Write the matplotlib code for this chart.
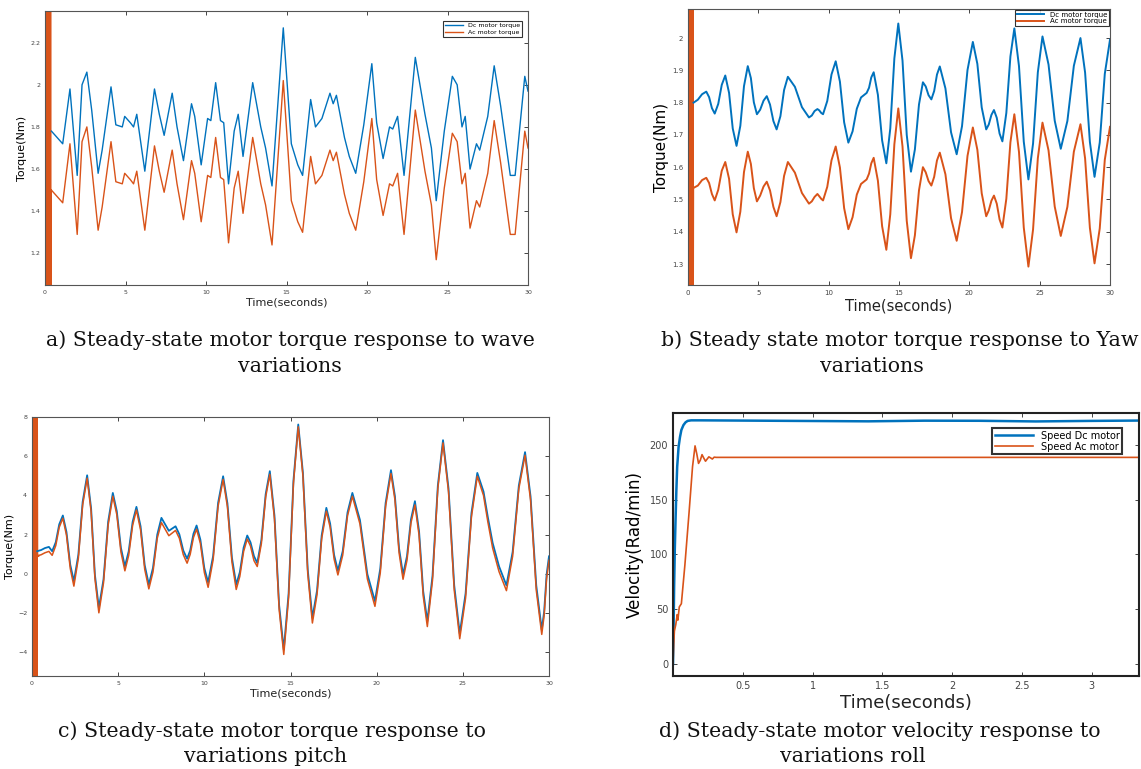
import matplotlib
matplotlib.use("Agg")
import matplotlib.pyplot as plt

DC = '#0072BD'
AC = '#D95319'

# ---------------- data -----------------
# a) wave
t_a = [0.4, 1.1, 1.55, 2.0, 2.3, 2.6, 2.9, 3.3, 3.55, 4.1, 4.4, 4.8, 4.95, 5.3, 5.5, 5.7, 6.2, 6.8, 7.1, 7.4,
       7.9, 8.2, 8.6, 9.1, 9.3, 9.7, 10.1, 10.3, 10.6, 10.9, 11.1, 11.4, 11.75, 12.0, 12.3, 12.9, 13.4, 13.7,
       14.1, 14.8, 15.3, 15.7, 16.0, 16.5, 16.8, 17.2, 17.7, 17.9, 18.1, 18.6, 18.9, 19.3, 19.8, 20.3, 20.6,
       21.0, 21.4, 21.6, 21.9, 22.3, 23.0, 23.6, 24.0, 24.3, 24.8, 25.3, 25.6, 25.9, 26.1, 26.4, 26.8, 27.0,
       27.5, 27.9, 28.3, 28.9, 29.2, 29.8, 30.0]
dc_a = [1.78, 1.72, 1.98, 1.57, 2.0, 2.06, 1.88, 1.58, 1.69, 1.99, 1.81, 1.80, 1.85, 1.82, 1.80, 1.86, 1.59, 1.98,
        1.86, 1.76, 1.96, 1.80, 1.64, 1.91, 1.85, 1.62, 1.84, 1.83, 2.01, 1.83, 1.82, 1.53, 1.78, 1.86, 1.66,
        2.01, 1.80, 1.70, 1.52, 2.27, 1.72, 1.62, 1.57, 1.93, 1.80, 1.84, 1.96, 1.91, 1.95, 1.75, 1.66, 1.58,
        1.81, 2.10, 1.82, 1.65, 1.80, 1.79, 1.85, 1.57, 2.13, 1.86, 1.70, 1.45, 1.78, 2.04, 2.00, 1.80, 1.85,
        1.60, 1.72, 1.69, 1.85, 2.09, 1.90, 1.57, 1.57, 2.04, 1.97]
ac_a = [1.50, 1.44, 1.72, 1.29, 1.73, 1.80, 1.61, 1.31, 1.42, 1.73, 1.54, 1.53, 1.58, 1.55, 1.53, 1.59, 1.31, 1.71,
        1.59, 1.49, 1.69, 1.53, 1.36, 1.64, 1.58, 1.35, 1.57, 1.56, 1.75, 1.56, 1.55, 1.25, 1.51, 1.59, 1.39,
        1.75, 1.53, 1.43, 1.24, 2.02, 1.45, 1.35, 1.30, 1.66, 1.53, 1.57, 1.69, 1.64, 1.68, 1.48, 1.39, 1.31,
        1.54, 1.84, 1.55, 1.38, 1.53, 1.52, 1.58, 1.29, 1.88, 1.59, 1.43, 1.17, 1.51, 1.77, 1.73, 1.53, 1.58,
        1.32, 1.45, 1.42, 1.58, 1.83, 1.63, 1.29, 1.29, 1.78, 1.70]

# b) yaw
t_b = [0.4, 0.7, 1.0, 1.3, 1.5, 1.7, 1.9, 2.15, 2.4, 2.65, 2.92, 3.18, 3.45, 3.72, 3.98, 4.25, 4.47, 4.68, 4.9,
       5.13, 5.37, 5.6, 5.83, 6.07, 6.3, 6.57, 6.83, 7.1, 7.6, 8.1, 8.6, 8.8, 9.0, 9.2, 9.33, 9.47, 9.6, 9.9,
       10.2, 10.5, 10.8, 11.1, 11.4, 11.7, 12.0, 12.3, 12.7, 12.87, 13.03, 13.2, 13.5, 13.8, 14.1, 14.38, 14.67,
       14.95, 15.25, 15.55, 15.85, 16.13, 16.42, 16.7, 16.9, 17.1, 17.3, 17.5, 17.7, 17.9, 18.3, 18.7, 19.1,
       19.48, 19.87, 20.25, 20.57, 20.88, 21.2, 21.38, 21.57, 21.75, 21.95, 22.15, 22.35, 22.63, 22.92, 23.2,
       23.53, 23.87, 24.2, 24.53, 24.87, 25.2, 25.63, 26.07, 26.5, 26.97, 27.43, 27.9, 28.23, 28.57, 28.9,
       29.27, 29.63, 30.0]
dc_b = [1.80, 1.809, 1.826, 1.834, 1.817, 1.783, 1.766, 1.796, 1.855, 1.884, 1.83, 1.72, 1.666, 1.728, 1.851,
        1.913, 1.876, 1.801, 1.764, 1.778, 1.806, 1.82, 1.794, 1.743, 1.717, 1.758, 1.839, 1.88, 1.849, 1.786,
        1.754, 1.76, 1.774, 1.78, 1.776, 1.768, 1.764, 1.805, 1.887, 1.928, 1.865, 1.739, 1.676, 1.711, 1.781,
        1.816, 1.83, 1.846, 1.878, 1.894, 1.824, 1.683, 1.612, 1.72, 1.937, 2.045, 1.93, 1.70, 1.586, 1.655,
        1.794, 1.863, 1.85, 1.823, 1.81, 1.836, 1.887, 1.912, 1.844, 1.708, 1.64, 1.727, 1.901, 1.988, 1.92,
        1.785, 1.717, 1.732, 1.762, 1.777, 1.753, 1.704, 1.68, 1.768, 1.943, 2.03, 1.913, 1.679, 1.562, 1.673,
        1.894, 2.005, 1.918, 1.744, 1.657, 1.743, 1.914, 2.0, 1.893, 1.678, 1.57, 1.676, 1.889, 1.995]
ac_b = [1.536, 1.543, 1.560, 1.567, 1.551, 1.517, 1.497, 1.530, 1.589, 1.616, 1.564, 1.454, 1.398, 1.462, 1.585,
        1.648, 1.610, 1.535, 1.494, 1.512, 1.540, 1.555, 1.528, 1.477, 1.448, 1.492, 1.573, 1.616, 1.583, 1.520,
        1.487, 1.494, 1.508, 1.517, 1.510, 1.502, 1.497, 1.539, 1.621, 1.664, 1.599, 1.473, 1.408, 1.445, 1.515,
        1.548, 1.562, 1.580, 1.612, 1.629, 1.558, 1.417, 1.344, 1.454, 1.671, 1.782, 1.664, 1.434, 1.318, 1.389,
        1.528, 1.600, 1.584, 1.557, 1.543, 1.570, 1.621, 1.645, 1.578, 1.442, 1.372, 1.461, 1.635, 1.723, 1.654,
        1.519, 1.448, 1.466, 1.496, 1.512, 1.487, 1.438, 1.413, 1.502, 1.677, 1.764, 1.647, 1.413, 1.292, 1.407,
        1.628, 1.738, 1.652, 1.478, 1.387, 1.477, 1.648, 1.733, 1.627, 1.412, 1.302, 1.410, 1.623, 1.725]

# c) pitch
t_c = [0.3, 0.53, 0.75, 0.98, 1.17, 1.38, 1.58, 1.79, 2.0, 2.22, 2.43, 2.69, 2.94, 3.2, 3.43, 3.65, 3.88, 4.15,
       4.42, 4.69, 4.92, 5.16, 5.39, 5.61, 5.84, 6.06, 6.3, 6.54, 6.78, 7.02, 7.27, 7.51, 7.94, 8.33, 8.55, 8.78,
       9.0, 9.18, 9.37, 9.55, 9.77, 10.0, 10.22, 10.51, 10.8, 11.09, 11.34, 11.6, 11.85, 12.06, 12.28, 12.49,
       12.68, 12.88, 13.07, 13.31, 13.56, 13.8, 14.07, 14.34, 14.61, 14.89, 15.17, 15.45, 15.72, 16.0, 16.27,
       16.54, 16.81, 17.08, 17.3, 17.53, 17.75, 18.03, 18.31, 18.59, 19.03, 19.46, 19.9, 20.21, 20.52, 20.83,
       21.06, 21.3, 21.53, 21.76, 21.99, 22.22, 22.46, 22.7, 22.94, 23.24, 23.55, 23.85, 24.17, 24.5, 24.82,
       25.16, 25.5, 25.84, 26.2, 26.45, 26.73, 27.1, 27.53, 27.89, 28.25, 28.61, 28.93, 29.26, 29.58, 29.72,
       29.86, 30.0]
dc_c = [1.16, 1.22, 1.32, 1.38, 1.16, 1.62, 2.53, 2.98, 2.14, 0.47, -0.37, 0.98, 3.68, 5.03, 3.34, -0.04, -1.73,
        -0.27, 2.67, 4.13, 3.2, 1.33, 0.39, 1.15, 2.66, 3.42, 2.43, 0.45, -0.54, 0.31, 2.01, 2.86, 2.2, 2.43,
        2.02, 1.19, 0.78, 1.2, 2.05, 2.47, 1.75, 0.3, -0.43, 0.92, 3.63, 4.98, 3.6, 0.84, -0.54, 0.09, 1.34, 1.96,
        1.61, 0.91, 0.56, 1.73, 4.07, 5.24, 2.97, -1.59, -3.86, -0.99, 4.75, 7.62, 5.16, 0.23, -2.24, -0.84, 1.97,
        3.37, 2.57, 0.97, 0.17, 1.16, 3.14, 4.13, 2.75, -0.01, -1.39, 0.28, 3.62, 5.29, 3.96, 1.3, -0.03, 0.91,
        2.78, 3.71, 2.18, -0.88, -2.41, -0.1, 4.51, 6.82, 4.36, -0.58, -3.04, -0.99, 3.1, 5.15, 4.2, 2.9, 1.58,
        0.39, -0.58, 1.12, 4.51, 6.21, 3.95, -0.58, -2.84, -1.9, -0.04, 0.9]
ac_c = [0.92, 0.98, 1.08, 1.15, 0.95, 1.45, 2.38, 2.84, 1.98, 0.28, -0.62, 0.8, 3.52, 4.88, 3.18, -0.22, -1.98,
        -0.45, 2.5, 3.96, 3.03, 1.12, 0.16, 0.95, 2.48, 3.26, 2.25, 0.24, -0.76, 0.1, 1.83, 2.62, 1.95, 2.22,
        1.82, 0.98, 0.55, 1.0, 1.86, 2.28, 1.56, 0.08, -0.68, 0.72, 3.46, 4.82, 3.42, 0.62, -0.79, -0.12, 1.15,
        1.78, 1.42, 0.68, 0.38, 1.55, 3.92, 5.08, 2.8, -1.8, -4.1, -1.2, 4.6, 7.5, 5.0, 0.02, -2.5, -1.05, 1.8,
        3.2, 2.38, 0.76, -0.05, 0.96, 2.97, 3.96, 2.55, -0.25, -1.65, 0.06, 3.45, 5.12, 3.78, 1.08, -0.27, 0.7,
        2.6, 3.52, 1.98, -1.12, -2.68, -0.32, 4.36, 6.68, 4.18, -0.82, -3.3, -1.22, 2.92, 4.98, 4.0, 2.66, 1.32,
        0.12, -0.85, 0.9, 4.35, 6.05, 3.76, -0.82, -3.08, -2.1, -0.25, 0.7]

# start-up transient (dense oscillation of the Ac motor torque)
t_tr = [0.0, 0.02, 0.04, 0.06, 0.08, 0.10, 0.12, 0.14, 0.16, 0.18, 0.20, 0.22, 0.24, 0.26, 0.28, 0.30,
        0.32, 0.34, 0.36]
tr_a = [2.5, 0.9, 2.5, 0.9, 2.5, 0.9, 2.5, 0.9, 2.5, 0.9, 2.5, 0.9, 2.5, 0.9, 2.5, 0.9, 2.5, 0.9, 1.50]
tr_b = [2.2, 1.1, 2.2, 1.1, 2.2, 1.1, 2.2, 1.1, 2.2, 1.1, 2.2, 1.1, 2.2, 1.1, 2.2, 1.1, 2.2, 1.1, 1.536]
tr_c = [9.0, -6.0, 9.0, -6.0, 9.0, -6.0, 9.0, -6.0, 9.0, -6.0, 9.0, -6.0, 9.0, -6.0, 9.0, 0.92, 0.92, 0.92, 0.92]

# d) roll
t_d_dc = [0.0, 0.004, 0.008, 0.013, 0.018, 0.024, 0.03, 0.04, 0.05, 0.06, 0.075, 0.09, 0.105, 0.13, 0.2, 0.6,
          1.0, 1.4, 1.8, 2.2, 2.6, 3.0, 3.34]
v_d_dc = [0, 30, 70, 105, 130, 158, 180, 198, 207, 213.5, 218, 220.5, 221.8, 222.3, 222.3, 222.0, 221.7, 221.4,
          222.0, 221.9, 221.3, 221.8, 222.1]
t_d_ac = [0.0, 0.005, 0.01, 0.02, 0.03, 0.035, 0.045, 0.06, 0.085, 0.115, 0.14, 0.158, 0.17, 0.183, 0.196,
          0.208, 0.22, 0.233, 0.245, 0.257, 0.27, 0.282, 0.295, 0.31, 1.0, 2.0, 3.34]
v_d_ac = [0, 18, 30, 36, 45, 40, 52, 55, 90, 138, 180, 199, 192, 183, 186, 191, 188, 185, 187, 189, 188, 187,
          188.7, 188.5, 188.5, 188.5, 188.5]

W, H = 1141, 769


def box(l, r, t, b):
    return [l / W, (H - b) / H, (r - l) / W, (b - t) / H]


def style(ax, tsize, lsize, frame='#555555', lw=0.8):
    ax.tick_params(direction='in', top=True, right=True, labelsize=tsize, colors='#444444',
                   length=3, width=0.7)
    for s in ax.spines.values():
        s.set_color(frame)
        s.set_linewidth(lw)
    ax.set_xlabel('Time(seconds)', fontsize=lsize, labelpad=2, color='#222222')


fig = plt.figure(figsize=(W / 100, H / 100), dpi=100)

# a)
ax = fig.add_axes(box(45, 528, 11, 285))
ax.plot(t_tr, tr_a, color=AC, lw=1.6)
ax.plot(t_a, dc_a, color=DC, lw=1.0, label='Dc motor torque')
ax.plot(t_a, ac_a, color=AC, lw=1.0, label='Ac motor torque')
ax.set_xlim(0, 30)
ax.set_ylim(1.05, 2.35)
ax.set_xticks([0, 5, 10, 15, 20, 25, 30])
ax.set_yticks([1.2, 1.4, 1.6, 1.8, 2.0, 2.2])
ax.set_yticklabels(['1.2', '1.4', '1.6', '1.8', '2', '2.2'])
style(ax, 4.5, 8)
ax.set_ylabel('Torque(Nm)', fontsize=8, labelpad=2)
leg = ax.legend(loc='upper right', fontsize=4.5, frameon=True, fancybox=False, handlelength=3,
                borderpad=0.3, labelspacing=0.2, bbox_to_anchor=(0.995, 0.975))
leg.get_frame().set_edgecolor('black')
leg.get_frame().set_linewidth(0.8)

# b)
ax = fig.add_axes(box(688, 1110, 9, 285))
ax.plot(t_tr, tr_b, color=AC, lw=1.6)
ax.plot(t_b, dc_b, color=DC, lw=1.4, label='Dc motor torque')
ax.plot(t_b, ac_b, color=AC, lw=1.4, label='Ac motor torque')
ax.set_xlim(0, 30)
ax.set_ylim(1.235, 2.09)
ax.set_xticks([0, 5, 10, 15, 20, 25, 30])
ax.set_yticks([1.3, 1.4, 1.5, 1.6, 1.7, 1.8, 1.9, 2.0])
ax.set_yticklabels(['1.3', '1.4', '1.5', '1.6', '1.7', '1.8', '1.9', '2'])
style(ax, 5, 10.5)
ax.set_ylabel('Torque(Nm)', fontsize=11, labelpad=2)
leg = ax.legend(loc='upper right', fontsize=5, frameon=True, fancybox=False, handlelength=4,
                borderpad=0.2, labelspacing=0.1, borderaxespad=0.2)
leg.get_frame().set_edgecolor('black')
leg.get_frame().set_linewidth(0.8)

# c)
ax = fig.add_axes(box(32, 549, 417, 676))
ax.plot(t_tr, tr_c, color=AC, lw=1.6)
ax.plot(t_c, dc_c, color=DC, lw=1.3)
ax.plot(t_c, ac_c, color=AC, lw=1.1)
ax.set_xlim(0, 30)
ax.set_ylim(-5.2, 8)
ax.set_xticks([0, 5, 10, 15, 20, 25, 30])
ax.set_yticks([-4, -2, 0, 2, 4, 6, 8])
style(ax, 4.5, 8)
ax.set_ylabel('Torque(Nm)', fontsize=8, labelpad=2)

# d)
ax = fig.add_axes(box(673, 1139, 413, 676))
ax.plot(t_d_dc, v_d_dc, color=DC, lw=1.8, label='Speed Dc motor')
ax.plot(t_d_ac, v_d_ac, color=AC, lw=1.2, label='Speed Ac motor')
ax.set_xlim(0, 3.34)
ax.set_ylim(-11, 229)
ax.set_xticks([0.5, 1, 1.5, 2, 2.5, 3])
ax.set_xticklabels(['0.5', '1', '1.5', '2', '2.5', '3'])
ax.set_yticks([0, 50, 100, 150, 200])
style(ax, 7, 13, frame='#222222', lw=1.5)
ax.set_ylabel('Velocity(Rad/min)', fontsize=12, labelpad=4)
leg = ax.legend(loc='upper right', fontsize=7, frameon=True, fancybox=False, handlelength=4,
                borderpad=0.25, labelspacing=0.1, bbox_to_anchor=(0.975, 0.96))
leg.get_frame().set_edgecolor('black')
leg.get_frame().set_linewidth(1.5)

# captions
cap = dict(family='DejaVu Serif', fontsize=14.8, ha='center', va='center', color='#111111')
fig.text(290 / W, 1 - 340 / H, 'a) Steady-state motor torque response to wave', **cap)
fig.text(290 / W, 1 - 366 / H, 'variations', **cap)
fig.text(900 / W, 1 - 340 / H, 'b) Steady state motor torque response to Yaw', **cap)
fig.text(872 / W, 1 - 366 / H, 'variations', **cap)
fig.text(272 / W, 1 - 731 / H, 'c) Steady-state motor torque response to', **cap)
fig.text(266 / W, 1 - 757 / H, 'variations pitch', **cap)
fig.text(880 / W, 1 - 731 / H, 'd) Steady-state motor velocity response to', **cap)
fig.text(853 / W, 1 - 757 / H, 'variations roll', **cap)

fig.savefig('out.png', dpi=100)
